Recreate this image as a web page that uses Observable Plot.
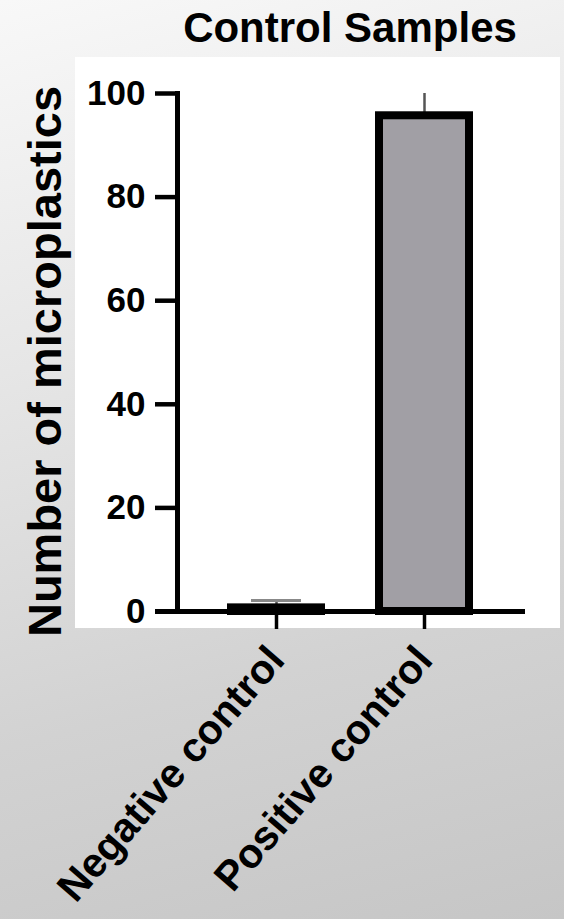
<!DOCTYPE html>
<html>
<head>
<meta charset="utf-8">
<script src="https://cdn.jsdelivr.net/npm/d3@7"></script>
<script src="https://cdn.jsdelivr.net/npm/@observablehq/plot@0.6"></script>
<style>
  html, body { margin: 0; padding: 0; }
  body {
    width: 564px; height: 919px; position: relative; overflow: hidden;
    background: linear-gradient(165deg, #f8f8f8 0%, #e6e6e6 35%, #d2d2d2 70%, #c6c6c6 100%);
    font-family: "Liberation Sans", Arial, sans-serif;
  }
  #title {
    position: absolute; left: 150px; width: 400px; top: 7px;
    text-align: center; font-weight: bold; font-size: 42px; line-height: 41px; color: #000;
  }
  #panel { position: absolute; left: 75px; top: 57px; width: 485px; height: 571px; background: #fff; }
  #chart { position: absolute; left: 0; top: 57px; }
  #chart svg { overflow: visible; }
</style>
</head>
<body>
<div id="title">Control Samples</div>
<div id="panel"></div>
<div id="chart"></div>
<script>
const categories = ["Negative control", "Positive control"];
const means = [0.7, 95.7];
const errors = [1.4, 4.3];
const yTicks = [0, 20, 40, 60, 80, 100];
const yLabel = "Number of microplastics";

const data = categories.map((c, i) => ({cat: c, mean: means[i], upper: means[i] + errors[i]}));
const capped = data.filter(d => d.cat === "Negative control");
const font = "Liberation Sans, Arial, sans-serif";

const chart = Plot.plot({
  width: 564,
  height: 862,
  marginTop: 36,
  marginBottom: 308,
  marginLeft: 177,
  marginRight: 42,
  style: {background: "transparent", fontFamily: font, color: "#000", overflow: "visible"},
  x: {domain: categories, paddingInner: 0.394, paddingOuter: 0.36, axis: null},
  y: {domain: [0, 100], axis: null},
  marks: [
    Plot.ruleX(data, {x: "cat", y1: "mean", y2: "upper", stroke: "#555", strokeWidth: 2.5}),
    Plot.tickY(capped, {x: "cat", y: "upper", stroke: "#888", strokeWidth: 3, insetLeft: 20, insetRight: 20}),
    Plot.barY(data, {x: "cat", y: "mean", fill: "#a19fa5", stroke: "#000", strokeWidth: 8}),
    Plot.axisY({ticks: yTicks, tickSize: 22, tickPadding: 10, fontSize: 35, fontWeight: "bold", strokeWidth: 4.5, label: null}),
    Plot.axisX({tickSize: 18, strokeWidth: 3.5, tickFormat: () => "", label: null}),
    Plot.frame({anchor: "left", strokeWidth: 5}),
    Plot.ruleY([0], {strokeWidth: 5, insetLeft: -22, insetRight: -3}),
    Plot.text(categories, {x: d => d, frameAnchor: "bottom", rotate: -49, textAnchor: "end", lineAnchor: "bottom",
      dx: 10, dy: 50, fontSize: 41, fontWeight: "bold", fill: "#000"}),
    Plot.text([yLabel], {frameAnchor: "left", rotate: -90, textAnchor: "middle", dx: -132, dy: 9,
      fontSize: 47, fontWeight: "bold", fill: "#000"})
  ]
});
document.getElementById("chart").appendChild(chart);
</script>
</body>
</html>
